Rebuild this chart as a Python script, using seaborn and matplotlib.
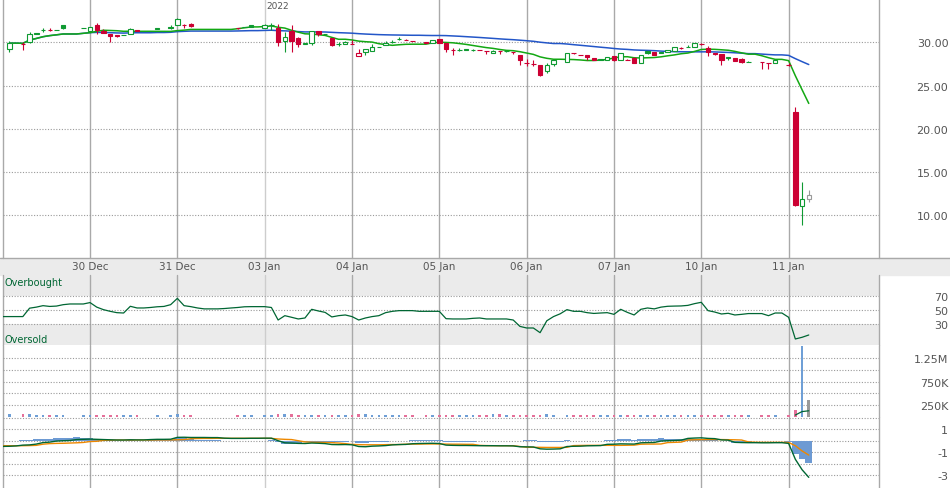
import numpy as np
import pandas as pd
import matplotlib
matplotlib.use('Agg')  # no display
import matplotlib.pyplot as plt
from matplotlib.patches import Rectangle
from matplotlib.lines import Line2D
import seaborn as sns

# ---- data: 30-minute bars, 13 per session, index 0 = first slot of 29 Dec ----
day_labels = ['30 Dec', '31 Dec', '03 Jan', '04 Jan', '05 Jan', '06 Jan', '07 Jan', '10 Jan', '11 Jan']
bars_per_day = 13
year_label = '2022'
year_session = 3  # 03 Jan

N = None
opens = [N, 29.2, N, 29.85, 30.0, 31.12, 31.45, 31.4, 31.47, 31.96,
         N, N, 31.65, 31.35, 32.0, 31.35, 30.9, 30.8, 30.8, 30.9,
         31.4, N, N, 31.7, N, 31.73, 32.0, 32.0, 32.1, N,
         N, N, N, N, N, 31.7, 31.8, 31.96, N, 31.7,
         31.96, 31.7, 30.15, 31.3, 30.46, 29.75, 29.97, 31.35, 31.0, 30.46,
         29.77, 29.8, 29.85, 28.42, 28.9, 29.0, 29.5, 29.65, 30.08, 30.35,
         30.3, 30.2, N, 30.0, 29.97, 30.35, 29.97, 29.1, 29.1, 29.25,
         29.1, 29.05, 29.0, 28.75, 28.95, 28.95, 28.9, 28.5, 27.57, 27.54,
         27.38, 26.7, 27.46, N, 27.73, 28.77, 28.5, 28.5, 28.19, 28.07,
         28.0, 28.38, 28.0, 28.0, 28.23, 27.65, 29.0, 28.85, 28.88, 28.92,
         29.04, 29.3, 29.5, 29.5, 29.85, 29.3, 28.77, 28.6, 28.35, 28.15,
         28.07, 27.77, N, 27.7, 27.61, 27.65, N, 27.35, 21.95, 11.05,
         11.9]
highs = [N, 30.2, N, 30.0, 31.2, 31.12, 31.7, 31.65, 31.47, 31.96,
         N, N, 31.65, 31.8, 32.2, 31.5, 30.9, 30.8, 30.8, 31.6,
         31.4, N, N, 31.7, N, 31.96, 32.85, 32.15, 32.25, N,
         N, N, N, N, N, 31.7, 31.8, 31.96, N, 32.16,
         32.27, 32.1, 31.2, 31.96, 30.58, 29.97, 31.35, 31.35, 31.0, 30.5,
         30.05, 30.2, 30.3, 29.27, 29.2, 29.8, 29.5, 30.2, 30.3, 30.55,
         30.35, 30.2, N, 30.0, 30.23, 30.4, 29.97, 29.3, 29.3, 29.25,
         29.25, 29.05, 29.0, 29.05, 28.95, 29.05, 28.9, 28.5, 28.04, 27.9,
         27.38, 27.6, 27.92, N, 28.8, 28.77, 28.5, 28.5, 28.19, 28.07,
         28.34, 28.38, 28.7, 28.1, 28.35, 28.53, 29.0, 28.85, 28.88, 29.15,
         29.4, 29.4, 29.7, 29.88, 29.88, 29.55, 28.77, 28.6, 28.35, 28.15,
         28.15, 27.85, N, 27.77, 27.65, 27.92, N, 27.6, 22.53, 13.8,
         12.9]
lows = [N, 28.9, N, 29.1, 29.9, 31.0, 31.2, 31.35, 31.4, 31.54,
        N, N, 31.65, 31.35, 31.0, 31.1, 30.0, 30.6, 30.8, 30.9,
        31.3, N, N, 31.5, N, 31.58, 31.95, 31.65, 31.8, N,
        N, N, N, N, N, 31.55, 31.73, 31.8, N, 31.7,
        31.42, 29.6, 28.9, 28.9, 29.46, 29.75, 29.7, 30.7, 30.9, 29.55,
        29.55, 29.75, 29.85, 28.42, 28.55, 29.0, 29.5, 29.65, 29.9, 30.3,
        30.3, 30.2, N, 29.9, 29.97, 29.97, 28.88, 28.5, 28.95, 29.05,
        28.95, 29.05, 28.6, 28.75, 28.6, 28.9, 28.6, 27.4, 27.27, 27.3,
        26.1, 26.4, 27.3, N, 27.73, 28.6, 28.5, 28.0, 27.96, 27.9,
        28.0, 27.8, 28.0, 27.95, 27.55, 27.65, 28.65, 28.5, 28.77, 28.92,
        29.04, 29.2, 29.4, 29.5, 29.7, 28.42, 28.5, 27.4, 27.9, 27.85,
        27.65, 27.7, N, 26.96, 26.96, 27.65, N, 27.3, 11.03, 8.9,
        11.5]
closes = [N, 29.9, N, 29.85, 31.0, 31.0, 31.45, 31.4, 31.4, 31.65,
          N, N, 31.65, 31.8, 31.42, 31.1, 30.75, 30.7, 30.8, 31.5,
          31.3, N, N, 31.58, N, 31.6, 32.7, 32.0, 31.9, N,
          N, N, N, N, N, 31.6, 31.75, 31.8, N, 31.96,
          31.96, 30.05, 30.66, 30.15, 29.85, 29.97, 31.35, 30.96, 30.97, 29.7,
          29.77, 30.08, 29.85, 28.8, 29.2, 29.5, 29.5, 29.97, 30.08, 30.35,
          30.3, 30.2, N, 29.9, 30.23, 29.97, 29.27, 29.1, 29.1, 29.1,
          29.1, 29.05, 29.0, 29.0, 28.95, 28.95, 28.9, 27.92, 27.57, 27.54,
          26.23, 27.38, 27.92, N, 28.8, 28.77, 28.5, 28.25, 27.96, 27.98,
          28.34, 27.96, 28.7, 28.0, 27.6, 28.53, 28.77, 28.5, 28.77, 29.15,
          29.4, 29.3, 29.5, 29.88, 29.85, 28.85, 28.6, 28.0, 28.23, 27.85,
          27.7, 27.77, N, 27.7, 27.61, 27.92, N, 27.35, 11.18, 11.87,
          12.33]
volume_k = [0, 48, 0, 48, 48, 25, 25, 25, 25, 25,
            0, 0, 25, 25, 25, 25, 25, 25, 25, 25,
            25, 0, 0, 25, 0, 25, 48, 25, 25, 0,
            0, 0, 0, 0, 0, 25, 25, 25, 0, 25,
            25, 48, 48, 48, 25, 25, 25, 25, 25, 25,
            25, 25, 25, 48, 48, 25, 25, 25, 25, 25,
            25, 25, 0, 25, 25, 25, 25, 25, 25, 25,
            25, 25, 25, 48, 48, 25, 25, 25, 25, 25,
            25, 48, 25, 0, 25, 25, 25, 25, 25, 25,
            25, 25, 25, 25, 25, 25, 25, 25, 25, 25,
            25, 25, 25, 25, 25, 25, 25, 25, 25, 25,
            25, 25, 0, 25, 25, 25, 0, 25, 150, 1520,
            360]
rsi = [41, 41, 41, 41, 53, 54.5, 56.6, 55.5, 56, 58,
       59, 59, 59, 61, 54.5, 50.9, 48.5, 46.6, 46.1, 55.7,
       53.3, 53.3, 54, 55, 55.5, 58, 67, 56.6, 55.2, 53.3,
       52, 52, 52, 52.5, 53.3, 54, 55, 55.2, 55.2, 55.2,
       54, 36.1, 42.3, 40, 37.6, 39, 51.4, 49, 47, 40.5,
       42.3, 43.3, 41, 36.1, 39, 41, 42.3, 46.6, 48.5, 49.5,
       49.5, 49.5, 48.5, 48.5, 48.5, 48.5, 38, 37.6, 37.6, 37.6,
       38.5, 39, 37.6, 37.6, 37.6, 37.6, 36.1, 27, 24.7, 24.7,
       18, 35, 41, 45, 50.9, 48.5, 48.5, 46.6, 45.5, 46.1,
       46.6, 44.2, 51.4, 47, 43.3, 51.4, 53.3, 52, 54.5, 55.7,
       56, 56.2, 57, 59.5, 61.4, 49.5, 47.5, 44.7, 45.7, 43.3,
       44.2, 45.3, 45.3, 45.3, 42.3, 46.1, 46.1, 40, 9, 11.4,
       14.7]
macd = [-0.49, -0.48, -0.45, -0.38, -0.36, -0.29, -0.16, -0.12, -0.03, 0.0,
        0.02, 0.1, 0.12, 0.14, 0.12, 0.1, 0.08, 0.06, 0.06, 0.08,
        0.07, 0.07, 0.1, 0.12, 0.12, 0.13, 0.29, 0.3, 0.28, 0.28,
        0.28, 0.27, 0.27, 0.22, 0.2, 0.2, 0.2, 0.21, 0.21, 0.22,
        0.22, 0.0, -0.18, -0.2, -0.23, -0.24, -0.2, -0.22, -0.25, -0.33,
        -0.34, -0.33, -0.35, -0.5, -0.52, -0.47, -0.45, -0.42, -0.36, -0.33,
        -0.32, -0.26, -0.24, -0.23, -0.22, -0.24, -0.38, -0.4, -0.41, -0.41,
        -0.42, -0.43, -0.43, -0.43, -0.44, -0.44, -0.45, -0.52, -0.53, -0.54,
        -0.7, -0.73, -0.72, -0.7, -0.5, -0.48, -0.47, -0.44, -0.43, -0.42,
        -0.31, -0.3, -0.27, -0.28, -0.29, -0.18, -0.16, -0.15, -0.03, 0.0,
        0.02, 0.05, 0.2, 0.23, 0.25, 0.2, 0.18, 0.07, 0.05, -0.14,
        -0.16, -0.17, -0.17, -0.18, -0.18, -0.17, -0.17, -0.23, -1.6, -2.5,
        -3.16]
signal = [-0.43, -0.43, -0.43, -0.43, -0.42, -0.4, -0.3, -0.25, -0.23, -0.22,
          -0.2, -0.18, -0.15, -0.07, -0.05, 0.03, 0.05, 0.06, 0.06, 0.06,
          0.06, 0.06, 0.06, 0.07, 0.07, 0.07, 0.08, 0.1, 0.17, 0.19,
          0.2, 0.2, 0.21, 0.21, 0.21, 0.21, 0.21, 0.21, 0.21, 0.21,
          0.2, 0.15, 0.12, 0.1, 0.0, -0.1, -0.13, -0.14, -0.15, -0.17,
          -0.2, -0.25, -0.32, -0.34, -0.35, -0.35, -0.35, -0.34, -0.33, -0.33,
          -0.3, -0.29, -0.29, -0.28, -0.28, -0.28, -0.29, -0.3, -0.3, -0.31,
          -0.31, -0.4, -0.42, -0.43, -0.43, -0.43, -0.43, -0.5, -0.56, -0.57,
          -0.57, -0.58, -0.58, -0.58, -0.57, -0.42, -0.41, -0.4, -0.4, -0.4,
          -0.4, -0.4, -0.4, -0.39, -0.38, -0.3, -0.29, -0.29, -0.28, -0.16,
          -0.14, -0.12, 0.06, 0.08, 0.09, 0.1, 0.1, 0.1, 0.09, 0.08,
          0.06, -0.1, -0.13, -0.14, -0.14, -0.14, -0.14, -0.15, -0.43, -0.88,
          -1.24]

GREEN, RED, GREY = '#0f9a32', '#cc0033', '#9a9a9a'
VOL_UP, VOL_DN = '#6f9fd6', '#e5709a'
GRID_V, GRID_Y, GRID_H = '#a9a9a9', '#cdcdcd', '#9a9a9a'
TXT = '#555555'

W, H = 950, 489
X0, X1 = 2.7, 879.3
XMAX = 130.5


def main():
    sns.set_style('white')
    plt.rcParams['font.family'] = ['DejaVu Sans']

    df = pd.DataFrame({'o': opens, 'h': highs, 'l': lows, 'c': closes, 'v': volume_k}, dtype=float)
    x = np.arange(len(df))
    traded = df['c'].dropna()
    ma_fast = traded.rolling(10, min_periods=1).mean().reindex(df.index).ffill()
    ma_slow = traded.rolling(50, min_periods=1).mean().reindex(df.index).ffill()
    vol_ma = df['v'][df['c'].notna()].rolling(20, min_periods=1).mean()

    prev_close = df['c'].ffill().shift(1).fillna(df['o'])
    cols = np.where(df['c'] >= prev_close, GREEN, RED).astype(object)
    vcols = np.where(df['c'] >= prev_close, VOL_UP, VOL_DN).astype(object)
    cols[-1], vcols[-1] = GREY, GREY  # bar still forming

    fig = plt.figure(figsize=(W / 100, H / 100), dpi=100)

    def box(top, bottom):
        return [X0 / W, 1 - bottom / H, (X1 - X0) / W, (bottom - top) / H]

    ax_p = fig.add_axes(box(0, 259))
    ax_r = fig.add_axes(box(276, 346))
    ax_v = fig.add_axes(box(346, 417.5))
    ax_m = fig.add_axes(box(417.5, 489))

    # date strip behind the tick labels
    fig.add_artist(Rectangle((0, 1 - 276 / H), 1, 17 / H, transform=fig.transFigure,
                             color='#ebebeb', zorder=-1))
    fig.add_artist(Line2D([0, 1], [1 - 259 / H] * 2, transform=fig.transFigure,
                          color=GRID_V, lw=1.0, zorder=5))

    day_starts = np.arange(0, len(day_labels) + 1) * bars_per_day

    def style(ax, grid, ticks, labels, ylim):
        ax.set_xlim(0, XMAX)
        ax.set_ylim(*ylim)
        for s in ax.spines.values():
            s.set_visible(False)
        for j in list(day_starts) + [XMAX]:
            c = GRID_Y if j == year_session * bars_per_day else GRID_V
            ax.axvline(j, color=c, lw=1.0, zorder=1, clip_on=False)
        for g in grid:
            ax.axhline(g, color=GRID_H, lw=0.8, ls=(0, (1, 1.5)), zorder=1)
        ax.yaxis.tick_right()
        ax.set_yticks(ticks, labels)
        ax.tick_params(axis='y', length=0, pad=49.7, labelsize=8, labelcolor=TXT)
        for t in ax.get_yticklabels():
            t.set_ha('right')
        ax.set_xlabel('')
        ax.set_ylabel('')

    # ---- price panel ----
    sns.lineplot(x=x, y=ma_slow.values, ax=ax_p, color='#2356c8', lw=1.1, zorder=2)
    sns.lineplot(x=x, y=ma_fast.values, ax=ax_p, color='#13a813', lw=1.1, zorder=2)
    for j, row in df.iterrows():
        if np.isnan(row['c']):
            continue
        col = cols[j]
        ax_p.vlines(j, row['l'], row['h'], color=col, lw=0.8, zorder=3)
        face = col if row['c'] < row['o'] else 'white'
        ax_p.bar(j, abs(row['c'] - row['o']), bottom=min(row['o'], row['c']), width=0.66,
                 color=face, edgecolor=col, linewidth=0.8, zorder=4)
    price_ticks = [10, 15, 20, 25, 30]
    style(ax_p, price_ticks, price_ticks, ['%.2f' % t for t in price_ticks], (5.06, 35.0))
    ax_p.set_xticks(day_starts[1:], day_labels)
    ax_p.tick_params(axis='x', length=0, pad=2.2, labelsize=7.5, labelcolor=TXT)
    ax_p.text(year_session * bars_per_day + 0.3, 34.75, year_label, fontsize=6.5,
              color=TXT, ha='left', va='top')

    # ---- RSI panel ----
    ax_r.axhspan(70, 101, color='#ebebeb', lw=0, zorder=0)
    ax_r.axhspan(-1, 30, color='#ebebeb', lw=0, zorder=0)
    sns.lineplot(x=x, y=rsi, ax=ax_r, color='#006633', lw=0.9, zorder=3)
    style(ax_r, [30, 50, 70], [70, 50, 30], ['70', '50', '30'], (0.4, 100.4))
    ax_r.set_xticks([])
    ax_r.text(0.0015, 0.9, 'Overbought', transform=ax_r.transAxes, fontsize=7,
              color='#006633', ha='left', va='center')
    ax_r.text(0.0015, 0.086, 'Oversold', transform=ax_r.transAxes, fontsize=7,
              color='#006633', ha='left', va='center')

    # ---- volume panel ----
    ax_v.bar(x, df['v'], width=0.4, color=list(vcols), lw=0, zorder=3)
    tail = vol_ma.iloc[-3:]
    sns.lineplot(x=tail.index.values, y=tail.values, ax=ax_v, color='#006633', lw=0.9, zorder=4)
    style(ax_v, [250, 500, 750, 1000, 1250], [250, 750, 1250], ['250K', '750K', '1.25M'],
          (0, 1538))
    ax_v.set_xticks([])

    # ---- MACD panel ----
    hist = np.array(macd) - np.array(signal)
    ax_m.bar(x, hist, width=1.02, color='#6d9ad3', lw=0, zorder=2)
    sns.lineplot(x=x, y=signal, ax=ax_m, color='#ee8800', lw=1.0, zorder=3)
    sns.lineplot(x=x, y=macd, ax=ax_m, color='#006633', lw=1.0, zorder=4)
    style(ax_m, [2, 1, 0, -1, -2, -3], [1, -1, -3], ['1', '-1', '-3'], (-4.08, 2.09))
    ax_m.set_xticks([])

    fig.savefig('out.png', dpi=100, facecolor='white')


if __name__ == '__main__':
    main()
